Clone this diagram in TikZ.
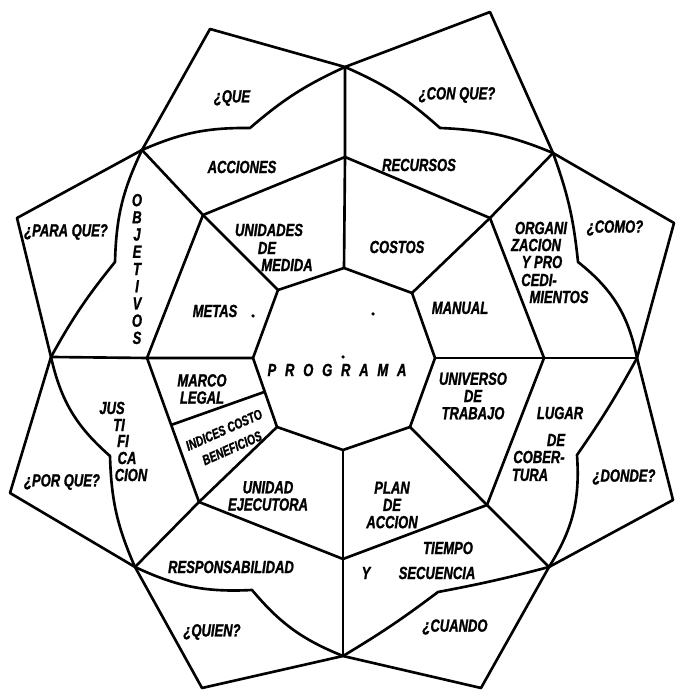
\documentclass[tikz,border=0pt]{standalone}
\usepackage{fontspec}
\newfontfamily\hand[FakeStretch=0.74, FakeBold=1.3]{Liberation Sans}
\usetikzlibrary{calc}

\begin{document}
\begin{tikzpicture}[x=0.2mm, y=0.2mm,
  trazo/.style={line width=1.5pt, line join=round, line cap=round},
  lbl/.style={font=\hand\fontsize{10}{9.8}\selectfont\bfseries\itshape,
    inner sep=0pt, align=center},
  chico/.style={font=\hand\fontsize{8}{11.3}\selectfont\bfseries\itshape,
    inner sep=0pt, align=center},
  punto/.style={circle, fill, inner sep=0pt, minimum size=2pt}
]
  \useasboundingbox (0,0) rectangle (675,690);

  % inner octagon
  \coordinate (iN) at (344,422);
  \coordinate (iNE) at (412,397);
  \coordinate (iE) at (435,332);
  \coordinate (iSE) at (410,263);
  \coordinate (iS) at (343,240);
  \coordinate (iSW) at (277,263);
  \coordinate (iW) at (253,332);
  \coordinate (iNW) at (278,400);

  % middle octagon
  \coordinate (mN) at (345,533);
  \coordinate (mNE) at (490,472);
  \coordinate (mE) at (544,332);
  \coordinate (mSE) at (487,185);
  \coordinate (mS) at (343,131);
  \coordinate (mSW) at (199,188);
  \coordinate (mW) at (147,332);
  \coordinate (mNW) at (203,475);

  % outer crossing points
  \coordinate (oN) at (345,623);
  \coordinate (oNE) at (553,537);
  \coordinate (oE) at (637,332);
  \coordinate (oSE) at (549,123);
  \coordinate (oS) at (343,34);
  \coordinate (oSW) at (135,123);
  \coordinate (oW) at (51,333);
  \coordinate (oNW) at (142,540);

  % kinks of the wavy ring
  \coordinate (kNNE) at (440,562);
  \coordinate (kENE) at (578,428);
  \coordinate (kESE) at (577,235);
  \coordinate (kSSE) at (438,98);
  \coordinate (kSSW) at (252,100);
  \coordinate (kWSW) at (110,234);
  \coordinate (kWNW) at (115,428);
  \coordinate (kNNW) at (250,562);

  % star tips
  \coordinate (vNNE) at (490,678);
  \coordinate (vENE) at (674,467);
  \coordinate (vESE) at (673,190);
  \coordinate (vSSE) at (481,2);
  \coordinate (vSSW) at (202,2);
  \coordinate (vWSW) at (10,197);
  \coordinate (vWNW) at (17,472);
  \coordinate (vNNW) at (210,661);

  % octagons
  \draw[trazo] (iN) -- (iNE) -- (iE) -- (iSE) -- (iS) -- (iSW) -- (iW) -- (iNW) -- cycle;
  \draw[trazo] (mN) -- (mNE) -- (mE) -- (mSE) -- (mS) -- (mSW) -- (mW) -- (mNW) -- cycle;

  % spokes
  \draw[trazo] (iN) -- (mN) -- (oN);
  \draw[trazo] (iNE) -- (mNE) -- (oNE);
  \draw[trazo] (iE) -- (mE) -- (oE);
  \draw[trazo] (iSE) -- (mSE) -- (oSE);
  \draw[trazo] (iS) -- (mS) -- (oS);
  \draw[trazo] (iSW) -- (mSW) -- (oSW);
  \draw[trazo] (iW) -- (mW) -- (oW);
  \draw[trazo] (iNW) -- (mNW) -- (oNW);

  % wavy ring
  \draw[trazo] (oN) to[bend left=9] (kNNE) to[bend left=10] (oNE)
    to[bend left=7] (kENE) to[bend left=20] (oE)
    to[bend left=3] (kESE) to[bend left=18] (oSE)
    to[bend left=2] (kSSE) to[bend left=3] (oS)
    to[bend left=14] (kSSW) to[bend left=14] (oSW)
    to[bend left=11] (kWSW) to[bend left=18] (oW)
    to[bend left=5] (kWNW) to[bend left=12] (oNW)
    to[bend left=12] (kNNW) to[bend left=8] (oN);

  % star
  \draw[trazo] (oN) -- (vNNE) -- (oNE) -- (vENE) -- (oE) -- (vESE) -- (oSE)
    -- (vSSE) -- (oS) -- (vSSW) -- (oSW) -- (vWSW) -- (oW) -- (vWNW)
    -- (oNW) -- (vNNW) -- cycle;

  % split of the legal box
  \draw[trazo] ($(mW)!0.465!(mSW)$) -- ($(iW)!0.49!(iSW)$);

  % questions
  \node[lbl] (qQue) at (232,592) {¿QUE};
  \node[lbl] (qConQue) at (457,595) {¿CON QUE?};
  \node[lbl] (qComo) at (615,462) {¿COMO?};
  \node[lbl] (qDonde) at (624,213) {¿DONDE?};
  \node[lbl] (qCuando) at (455,63) {¿CUANDO};
  \node[lbl] (qQuien) at (212,58) {¿QUIEN?};
  \node[lbl] (qPorQue) at (62,208) {¿POR QUE?};
  \node[lbl] (qParaQue) at (66,458) {¿PARA QUE?};

  % middle ring
  \node[lbl] (acciones) at (242,523) {ACCIONES};
  \node[lbl] (recursos) at (419,525) {RECURSOS};
  \node[lbl] (org1) at (541,462) {ORGANI};
  \node[lbl] (org2) at (536,445) {ZACION};
  \node[lbl] (org3) at (542,428) {Y PRO};
  \node[lbl] (org4) at (539,410) {CEDI-};
  \node[lbl] (org5) at (559,393) {MIENTOS};
  \node[lbl] (lug1) at (560,277) {LUGAR};
  \node[lbl] (lug2) at (556,250) {DE};
  \node[lbl] (lug3) at (539,233) {COBER-};
  \node[lbl] (lug4) at (530,215) {TURA};
  \node[lbl] (tiempo) at (448,142) {TIEMPO};
  \node[lbl] (tY) at (366,117) {Y};
  \node[lbl] (secuencia) at (437,117) {SECUENCIA};
  \node[lbl] (resp) at (231,123) {RESPONSABILIDAD};
  \node[lbl] (jus1) at (112,282) {JUS};
  \node[lbl] (jus2) at (119,265) {TI};
  \node[lbl] (jus3) at (123,249) {FI};
  \node[lbl] (jus4) at (127,232) {CA};
  \node[lbl] (jus5) at (131,215) {CION};
  \node[lbl] (objetivos) at (137,421) {O\\B\\J\\E\\T\\I\\V\\O\\S};

  % inner ring
  \node[lbl] (uni1) at (269,460) {UNIDADES};
  \node[lbl] (uni2) at (267,442) {DE};
  \node[lbl] (uni3) at (287,425) {MEDIDA};
  \node[lbl] (costos) at (397,443) {COSTOS};
  \node[lbl] (manual) at (460,382) {MANUAL};
  \node[lbl] (metas) at (215,379) {METAS};
  \node[lbl] (universo) at (473,294) {UNIVERSO\\DE\\TRABAJO};
  \node[lbl] (plan) at (392,185) {PLAN\\DE\\ACCION};
  \node[lbl] (unidad) at (268,194) {UNIDAD\\EJECUTORA};
  \node[lbl] (marco) at (202,301) {MARCO\\LEGAL};
  \node[chico, rotate=24] (indices) at (228,251) {INDICES COSTO\\BENEFICIOS};

  % centre
  \node[lbl] (programa) at (337,320)
    {P\hspace{5pt}R\hspace{5pt}O\hspace{5pt}G\hspace{5pt}R\hspace{5pt}A\hspace{5pt}M\hspace{5pt}A};

  % specks
  \node[punto] (p1) at (253,374) {};
  \node[punto] (p2) at (373,376) {};
  \node[punto] (p3) at (343,333) {};
\end{tikzpicture}
\end{document}
